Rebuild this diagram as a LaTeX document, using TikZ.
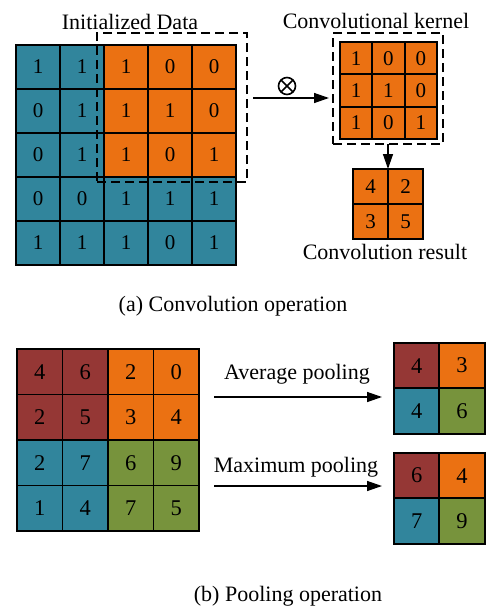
\documentclass[tikz,border=0pt]{standalone}
\usepackage{fontspec}
\setmainfont{Liberation Serif}
\usetikzlibrary{arrows.meta}
\definecolor{cteal}{HTML}{31859C}
\definecolor{corange}{HTML}{EB7112}
\definecolor{cbrown}{HTML}{953735}
\definecolor{cgreen}{HTML}{77933C}
\tikzset{
  cell/.style={draw=black, line width=1.8pt, minimum width=#1, minimum height=#1,
    inner sep=0pt, outer sep=0pt, anchor=north west, font=\fontsize{21}{24}\selectfont},
  dashbox/.style={draw=black, line width=1.6pt, dash pattern=on 9pt off 5pt,
    inner sep=0pt, outer sep=0pt, anchor=center},
  arr/.style={line width=1.4pt, -{Triangle[length=15pt,width=10pt]}},
  lbl/.style={font=\fontsize{22}{26}\selectfont, inner sep=0pt},
  otimesnode/.style={circle, draw=black, line width=1.6pt, minimum size=17pt, inner sep=0pt,
    path picture={\draw[line width=1.6pt] (path picture bounding box.north west) -- (path picture bounding box.south east)
      (path picture bounding box.north east) -- (path picture bounding box.south west);}}
}
\begin{document}
\begin{tikzpicture}[x=1pt,y=-1pt]
\useasboundingbox (0,0) rectangle (485,608);
% ---------- input data 5x5
\foreach \v [count=\i from 0] in {1,1,1,0,0, 0,1,1,1,0, 0,1,1,0,1, 0,0,1,1,1, 1,1,1,0,1}{
  \pgfmathtruncatemacro\r{div(\i,5)}
  \pgfmathtruncatemacro\c{mod(\i,5)}
  \ifnum\r<3 \ifnum\c>1 \def\fc{corange}\else\def\fc{cteal}\fi\else\def\fc{cteal}\fi
  \node[cell=44pt, fill=\fc] (d-\r-\c) at (16+44*\c, 45+44*\r) {\v};
}
% ---------- kernel 3x3
\foreach \v [count=\i from 0] in {1,0,0, 1,1,0, 1,0,1}{
  \pgfmathtruncatemacro\r{div(\i,3)}
  \pgfmathtruncatemacro\c{mod(\i,3)}
  \node[cell=32.3pt, fill=corange] (k-\r-\c) at (340+32.3*\c, 42+32.3*\r) {\v};
}
% ---------- result 2x2
\foreach \v [count=\i from 0] in {4,2, 3,5}{
  \pgfmathtruncatemacro\r{div(\i,2)}
  \pgfmathtruncatemacro\c{mod(\i,2)}
  \node[cell=35pt, fill=corange] (res-\r-\c) at (353+35*\c, 169+35*\r) {\v};
}
% dashed windows
\node[dashbox, minimum width=150pt, minimum height=149pt] (ddash) at (172,107.5) {};
\node[dashbox, minimum width=110pt, minimum height=111pt] (kdash) at (388,88.5) {};
% arrows
\coordinate (ay) at (0,98);
\draw[arr, shorten <=6pt, shorten >=4pt] (ddash.east |- ay) -- (kdash.west |- ay);
\node[otimesnode] (ot) at (287,86) {};
\draw[arr] (kdash.south) -- (res-0-0.north east);
% labels
\node[lbl] (t1) at (130,22) {Initialized Data};
\node[lbl] (t2) at (376,21) {Convolutional kernel};
\node[lbl] (t3) at (385,252) {Convolution result};
\node[lbl] (capa) at (233,306) {(a) Convolution operation};
% ---------- pooling input 4x4
\foreach \v [count=\i from 0] in {4,6,2,0, 2,5,3,4, 2,7,6,9, 1,4,7,5}{
  \pgfmathtruncatemacro\r{div(\i,4)}
  \pgfmathtruncatemacro\c{mod(\i,4)}
  \ifnum\r<2 \ifnum\c<2 \def\fc{cbrown}\else\def\fc{corange}\fi
  \else \ifnum\c<2 \def\fc{cteal}\else\def\fc{cgreen}\fi\fi
  \node[cell=45.5pt, fill=\fc, font=\fontsize{22.5}{26}\selectfont] (p-\r-\c) at (17+45.5*\c, 349+45.5*\r) {\v};
}
% ---------- average pooling result
\foreach \v/\fc [count=\i from 0] in {4/cbrown,3/corange,4/cteal,6/cgreen}{
  \pgfmathtruncatemacro\r{div(\i,2)}
  \pgfmathtruncatemacro\c{mod(\i,2)}
  \node[cell=45.3pt, fill=\fc, font=\fontsize{22.5}{26}\selectfont] (av-\r-\c) at (394+45.3*\c, 343+45.3*\r) {\v};
}
% ---------- max pooling result
\foreach \v/\fc [count=\i from 0] in {6/cbrown,4/corange,7/cteal,9/cgreen}{
  \pgfmathtruncatemacro\r{div(\i,2)}
  \pgfmathtruncatemacro\c{mod(\i,2)}
  \node[cell=45.3pt, fill=\fc, font=\fontsize{22.5}{26}\selectfont] (mx-\r-\c) at (394+45.3*\c, 453+45.3*\r) {\v};
}
\coordinate (avy) at (0,397);
\coordinate (mxy) at (0,486);
\draw[arr, shorten <=15pt, shorten >=12pt] (p-0-3.east |- avy) -- (av-0-0.west |- avy);
\draw[arr, shorten <=15pt, shorten >=12pt] (p-0-3.east |- mxy) -- (mx-0-0.west |- mxy);
\node[lbl] (t4) at (297,374) {Average pooling};
\node[lbl] (t5) at (296,467) {Maximum pooling};
\node[lbl] (capb) at (288,596) {(b) Pooling operation};
\end{tikzpicture}
\end{document}
